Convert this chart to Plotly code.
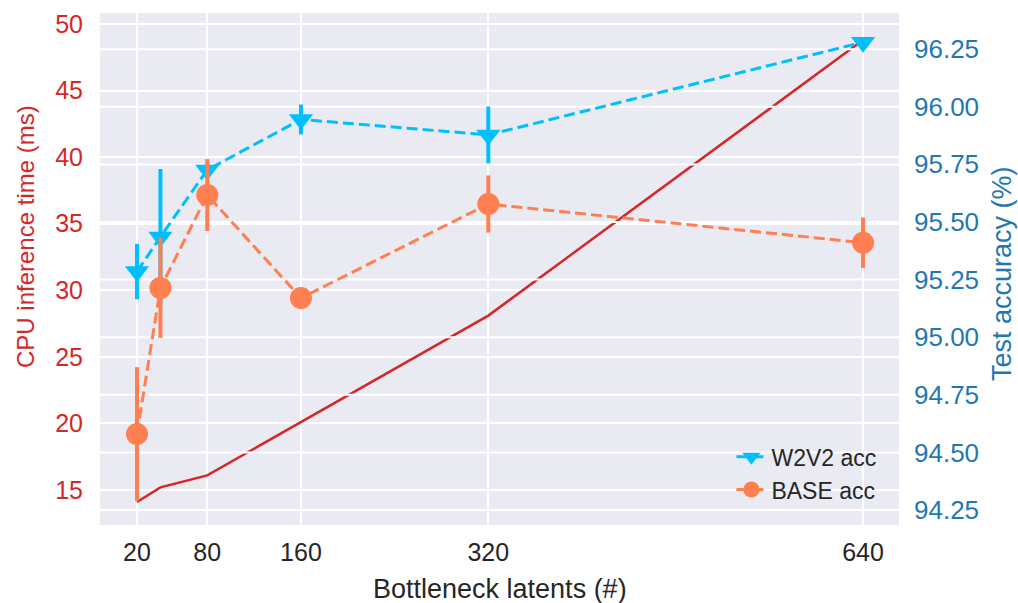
import plotly.graph_objects as go

# ---- data ----
latents = [20, 40, 80, 160, 320, 640]
cpu_ms = [14.1, 15.2, 16.1, 20.1, 28.1, 48.8]
w2v2_acc = [95.285, 95.435, 95.726, 95.945, 95.878, 96.28]
w2v2_err = [0.12, 0.295, 0.03, 0.065, 0.123, 0.02]
base_acc = [94.58, 95.214, 95.617, 95.17, 95.578, 95.41]
base_err = [0.29, 0.217, 0.156, 0.02, 0.124, 0.11]

x_ticks = [20, 80, 160, 320, 640]
left_ticks = [15, 20, 25, 30, 35, 40, 45, 50]
right_ticks = [94.25, 94.5, 94.75, 95.0, 95.25, 95.5, 95.75, 96.0, 96.25]

x_range = [-11.6, 670.7]
left_range = [12.37, 50.83]
right_range = [94.185, 96.407]

FONT = "Liberation Sans"
RED = "#d62728"
BLUE_AX = "#1f77b4"
SKY = "#00bfff"
CORAL = "#ff7f50"
TXT = "#262626"

fig = go.Figure()

# CPU time (left axis)
fig.add_trace(go.Scatter(
    x=latents, y=cpu_ms, mode="lines", yaxis="y",
    line=dict(color=RED, width=2.5), showlegend=False, name="CPU time"))

# right-axis grid drawn above the left-axis line (as in a twin axes)
gx, gy = [], []
for t in right_ticks:
    gx += [x_range[0], x_range[1], None]
    gy += [t, t, None]
fig.add_trace(go.Scatter(
    x=gx, y=gy, mode="lines", yaxis="y2", line=dict(color="white", width=2),
    hoverinfo="skip", showlegend=False))

fig.add_trace(go.Scatter(
    x=latents, y=w2v2_acc, mode="lines+markers", yaxis="y2", name="W2V2 acc",
    line=dict(color=SKY, width=3, dash="11px,5px"),
    marker=dict(symbol="triangle-down", size=21, color=SKY),
    error_y=dict(type="data", array=w2v2_err, color=SKY, thickness=4, width=0)))

fig.add_trace(go.Scatter(
    x=latents, y=base_acc, mode="lines+markers", yaxis="y2", name="BASE acc",
    line=dict(color=CORAL, width=3, dash="11px,5px"),
    marker=dict(symbol="circle", size=22, color=CORAL),
    error_y=dict(type="data", array=base_err, color=CORAL, thickness=4, width=0)))

fig.update_layout(
    width=1018, height=603,
    margin=dict(l=100, r=119, t=13, b=78, autoexpand=False),
    paper_bgcolor="white", plot_bgcolor="#EAEAF2",
    font=dict(family=FONT, size=25, color=TXT),
    xaxis=dict(range=x_range, tickvals=x_ticks, showgrid=True, gridcolor="white",
               gridwidth=2, zeroline=False, showline=False, ticks="",
               tickfont=dict(size=25, color=TXT), ticklabelstandoff=10),
    yaxis=dict(range=left_range, tickvals=left_ticks, showgrid=True, gridcolor="white",
               gridwidth=2, zeroline=False, showline=False, ticks="",
               tickfont=dict(size=25, color=RED), ticklabelstandoff=16),
    yaxis2=dict(range=right_range, tickvals=right_ticks, tickformat=".2f",
                overlaying="y", side="right", showgrid=False, zeroline=False,
                showline=False, ticks="", tickfont=dict(size=26, color=BLUE_AX),
                ticklabelstandoff=14),
    legend=dict(x=0.978, y=0.027, xanchor="right", yanchor="bottom",
                bgcolor="rgba(0,0,0,0)", font=dict(size=23, color=TXT),
                tracegroupgap=0, itemwidth=30),
    showlegend=True,
    annotations=[
        dict(text="CPU inference time (ms)", xref="paper", yref="paper", x=0, y=0.5625,
             xshift=-75, xanchor="center", yanchor="middle", textangle=-90,
             showarrow=False, font=dict(size=24, color=RED)),
        dict(text="Test accuracy (%)", xref="paper", yref="paper", x=1, y=0.49,
             xshift=103, xanchor="center", yanchor="middle", textangle=-90,
             showarrow=False, font=dict(size=27, color=BLUE_AX)),
        dict(text="Bottleneck latents (#)", xref="paper", yref="paper", x=0.5, y=0,
             yshift=-64, xanchor="center", yanchor="middle",
             showarrow=False, font=dict(size=27, color=TXT)),
    ],
)

fig.write_html("out.html")
